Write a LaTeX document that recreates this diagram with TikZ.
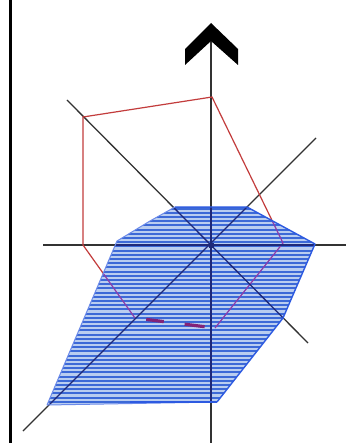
\documentclass[tikz,border=0pt]{standalone}
\usetikzlibrary{calc}
\begin{document}
\begin{tikzpicture}[x=1pt,y=-1pt]
\definecolor{axisc}{RGB}{50,50,50}
\definecolor{redc}{RGB}{195,60,60}
\definecolor{purc}{RGB}{140,60,170}
\definecolor{dashc}{RGB}{130,35,120}
\definecolor{hatchc}{RGB}{60,105,215}
\definecolor{fillc}{RGB}{185,205,240}
\definecolor{edgec}{RGB}{45,90,225}
\definecolor{navyc}{RGB}{30,40,120}
\tikzset{
  axisline/.style={draw=axisc,line width=1.3pt},
  redline/.style={draw=redc,line width=1.2pt,line join=miter},
  purline/.style={draw=purc,line width=1.2pt},
  hatchline/.style={draw=hatchc,line width=2pt},
  edgeline/.style={draw=edgec,line width=1.4pt,line join=round},
  dashseg/.style={draw=dashc,line width=3.2pt}
}
\useasboundingbox (0,0) rectangle (354,443);
\fill[white] (0,0) rectangle (354,443);
% left border
\draw[black,line width=3pt] (10,0) -- (10,443);
% coordinates
\coordinate (O) at (211,245);
\coordinate (vtop) at (211,40);
\coordinate (vbot) at (211,443);
\coordinate (hl) at (43,245);
\coordinate (hr) at (346,245);
\coordinate (d1a) at (67,100);
\coordinate (d1b) at (308,343);
\coordinate (d2a) at (23,431);
\coordinate (d2b) at (316,138);
% red polygon
\coordinate (r1) at (212,97);
\coordinate (r2) at (83,117);
\coordinate (r3) at (83,245);
\coordinate (r4) at (135,318);
\coordinate (r5) at (215,328);
\coordinate (r6) at (283,243);
% blue polygon
\coordinate (b1) at (175,207);
\coordinate (b2) at (247,207);
\coordinate (b3) at (315,244);
\coordinate (b4) at (283,318);
\coordinate (b5) at (217,402);
\coordinate (b6) at (47,405);
\coordinate (b7) at (117,241);
\coordinate (b8) at (150,221);
% axes
\draw[axisline] (vtop) -- (vbot);
\draw[axisline] (hl) -- (hr);
\draw[axisline] (d1a) -- (d1b);
\draw[axisline] (d2a) -- (d2b);
% red polygon
\draw[redline] (r4) -- (r3) -- (r2) -- (r1) -- (r6) -- (r5);
% blue hatched region
\fill[fillc] (b1) -- (b2) -- (b3) -- (b4) -- (b5) -- (b6) -- (b7) -- (b8) -- cycle;
\begin{scope}
  \clip (b1) -- (b2) -- (b3) -- (b4) -- (b5) -- (b6) -- (b7) -- (b8) -- cycle;
  \foreach \yy in {208.5,212.7,...,404} {
    \draw[hatchline] (40,\yy) -- (320,\yy);
  }
  \draw[purline] (r4) -- (r3) -- (r2) -- (r1) -- (r6) -- (r5);
  \draw[draw=navyc,line width=1.3pt] (vtop) -- (vbot);
  \draw[draw=navyc,line width=1.3pt] (hl) -- (hr);
  \draw[draw=navyc,line width=1.3pt] (d1a) -- (d1b);
  \draw[draw=navyc,line width=1.3pt] (d2a) -- (d2b);
\end{scope}
\draw[edgeline] (b1) -- (b2) -- (b3) -- (b4) -- (b5);
\draw[edgeline,line width=1pt,draw=edgec!70] (b5) -- (b6) -- (b7) -- (b8) -- (b1);
\draw[draw=edgec,line width=2pt] (130,402) -- (b5);
% dashed bottom of red polygon
\draw[dashseg] ($(r4)!0.14!(r5)$) -- ($(r4)!0.36!(r5)$);
\draw[dashseg] ($(r4)!0.62!(r5)$) -- ($(r4)!0.87!(r5)$);
% center mark
\fill[navyc] (O) ++(-2.5,-2.5) rectangle ++(5,5);
% chevron arrow head
\coordinate (c1) at (211,23);
\coordinate (c2) at (238,49);
\coordinate (c3) at (238,65);
\coordinate (c4) at (211,41);
\coordinate (c5) at (185,65);
\coordinate (c6) at (185,49);
\fill[black] (c1) -- (c2) -- (c3) -- (c4) -- (c5) -- (c6) -- cycle;
\end{tikzpicture}
\end{document}
